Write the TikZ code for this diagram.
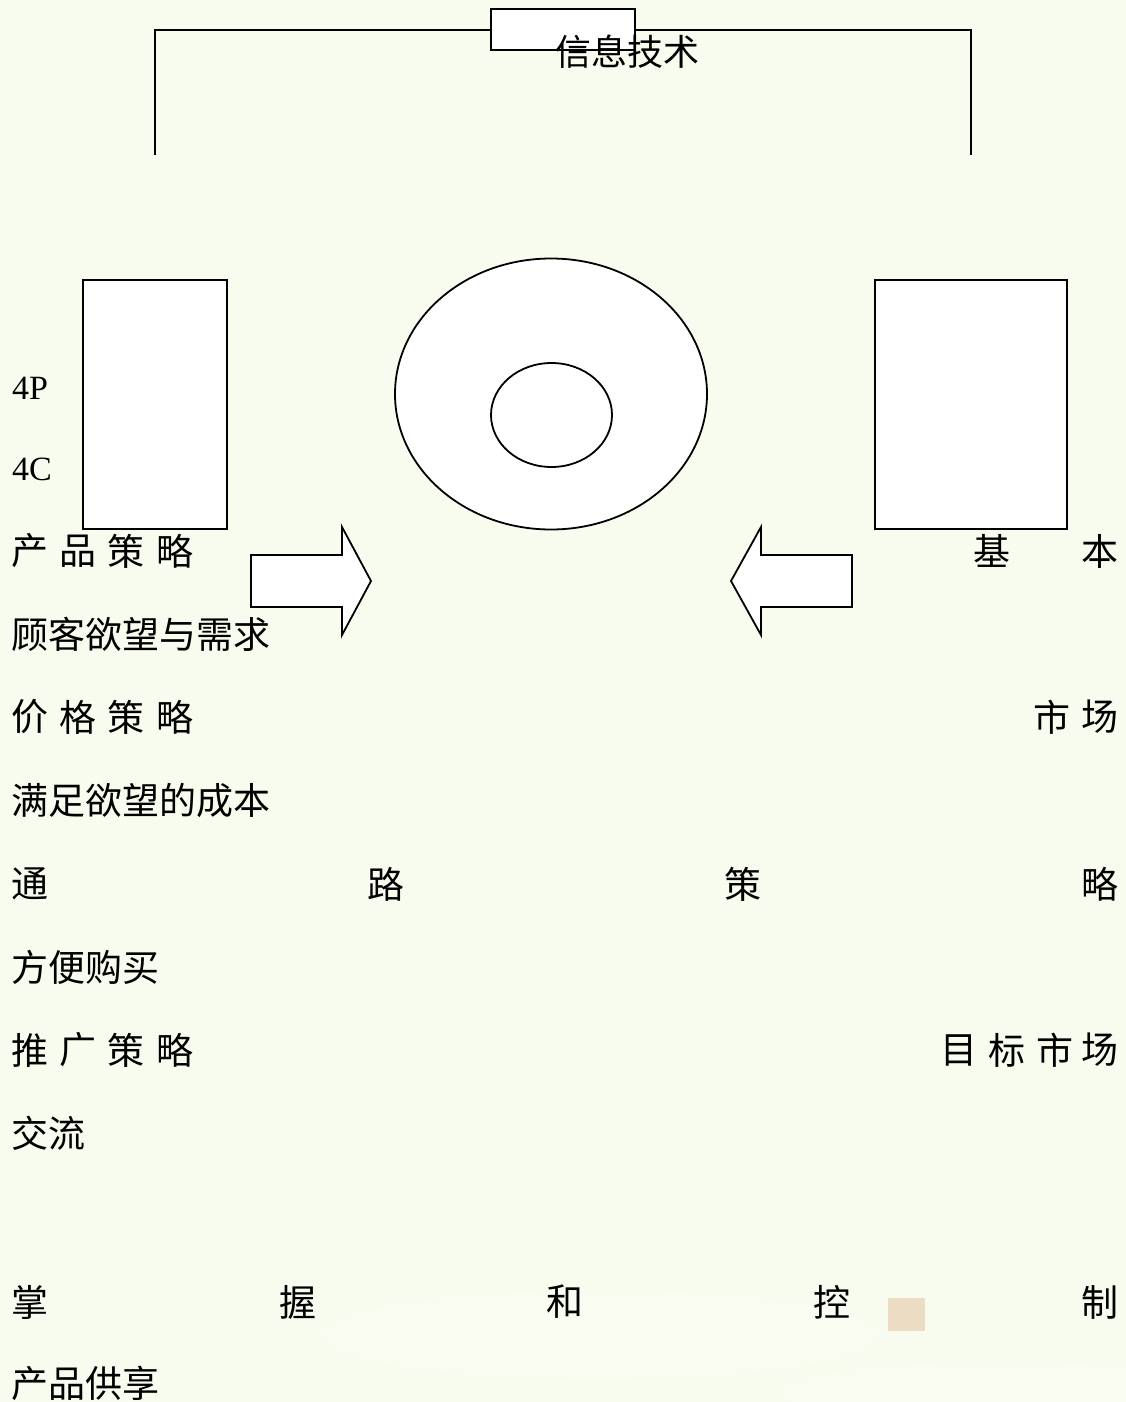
\documentclass[tikz,border=0pt]{standalone}
\usepackage{fontspec}
\newfontfamily\cjk{Noto Sans CJK SC}
\newfontfamily\latn{Liberation Serif}
\definecolor{bgc}{RGB}{248,252,238}
\definecolor{spot}{RGB}{234,212,186}
\begin{document}
\begin{tikzpicture}[x=1pt,y=-1pt,
  shp/.style={draw=black,line width=1.8pt,fill=white},
  cj/.style={anchor=west,inner sep=0pt,font=\cjk\fontsize{37}{42}\selectfont},
  lt/.style={anchor=west,inner sep=0pt,font=\latn\fontsize{34}{40}\selectfont}]
\fill[bgc] (0,0) rectangle (1126,1402);
\useasboundingbox (0,0) rectangle (1126,1402);
% faint texture at bottom
\fill[white,opacity=0.18] (600,1335) ellipse (280 and 45);
\fill[white,opacity=0.15] (1000,1392) ellipse (220 and 30);
\fill[spot,opacity=0.8] (888,1298) rectangle (925,1331);
% top bracket
\coordinate (bl) at (155,155);
\coordinate (tl) at (155,30);
\coordinate (tr) at (971,30);
\coordinate (br) at (971,155);
\draw[line width=2pt] (bl) -- (tl) -- (tr) -- (br);
\node[shp,minimum width=144pt,minimum height=41pt,inner sep=0pt] (itbox) at (563,29.5) {};
\node[anchor=center,inner sep=0pt,font=\cjk\fontsize{36}{40}\selectfont] (it) at (627,52) {信息技术};
% rectangles
\node[shp,minimum width=144pt,minimum height=249pt,inner sep=0pt] (lrect) at (155,404.5) {};
\node[shp,minimum width=192pt,minimum height=249pt,inner sep=0pt] (rrect) at (971,404.5) {};
% ellipses
\draw[shp] (551,394) ellipse (156 and 135.5);
\draw[shp] (551.5,415) ellipse (60.5 and 52);
% arrows
\draw[shp,line join=miter] (251,555) -- (342,555) -- (342,527) -- (371,581) -- (342,635) -- (342,607) -- (251,607) -- cycle;
\draw[shp,line join=miter] (852,555) -- (761,555) -- (761,527) -- (731,581) -- (761,635) -- (761,607) -- (852,607) -- cycle;
% texts
\node[lt] (t4p) at (12,388) {4P};
\node[lt] (t4c) at (12,469) {4C};
\node[cj] (a1) at (11,551) {产};
\node[cj] (a2) at (59,551) {品};
\node[cj] (a3) at (107,551) {策};
\node[cj] (a4) at (156,551) {略};
\node[cj] (a5) at (973,551) {基};
\node[cj] (a6) at (1081,551) {本};
\node[cj] (b1) at (11,634) {顾客欲望与需求};
\node[cj] (c1) at (11,717) {价};
\node[cj] (c2) at (59,717) {格};
\node[cj] (c3) at (107,717) {策};
\node[cj] (c4) at (156,717) {略};
\node[cj] (c5) at (1033,717) {市};
\node[cj] (c6) at (1081,717) {场};
\node[cj] (d1) at (11,800) {满足欲望的成本};
\node[cj] (e1) at (11,884) {通};
\node[cj] (e2) at (367,884) {路};
\node[cj] (e3) at (724,884) {策};
\node[cj] (e4) at (1081,884) {略};
\node[cj] (f1) at (11,967) {方便购买};
\node[cj] (g1) at (11,1050) {推};
\node[cj] (g2) at (59,1050) {广};
\node[cj] (g3) at (107,1050) {策};
\node[cj] (g4) at (156,1050) {略};
\node[cj] (g5) at (940,1050) {目};
\node[cj] (g6) at (988,1050) {标};
\node[cj] (g7) at (1036,1050) {市};
\node[cj] (g8) at (1081,1050) {场};
\node[cj] (h1) at (11,1133) {交流};
\node[cj] (k1) at (11,1302) {掌};
\node[cj] (k2) at (279,1302) {握};
\node[cj] (k3) at (546,1302) {和};
\node[cj] (k4) at (813,1302) {控};
\node[cj] (k5) at (1081,1302) {制};
\node[cj] (m1) at (11,1383) {产品供享};
\end{tikzpicture}
\end{document}
